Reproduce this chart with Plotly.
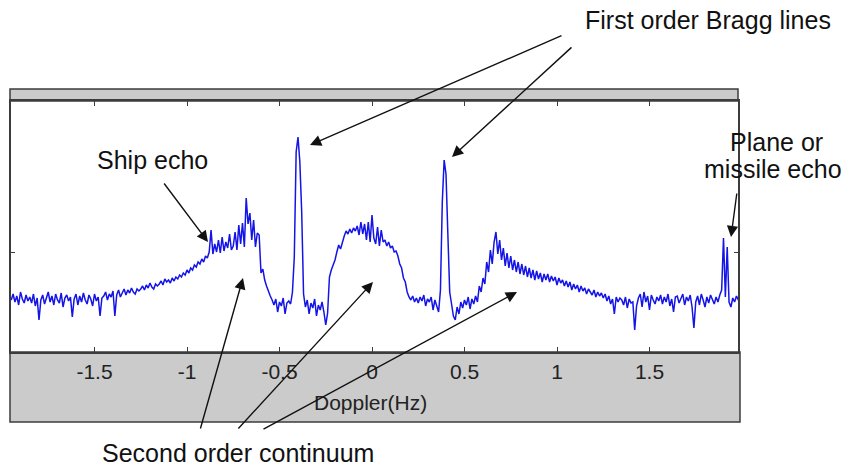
import numpy as np
import plotly.graph_objects as go

# Doppler spectrum (relative power, arbitrary units), bins of 0.01 Hz starting at -1.95 Hz
freq_start = -1.95
freq_step = 0.01
power = [
    52, 58, 50, 56, 47, 60, 53, 49, 57, 51,
    55, 49, 58, 46, 54, 32, 52, 57, 48, 55,
    60, 50, 56, 47, 58, 52, 49, 59, 45, 54,
    57, 51, 55, 35, 53, 58, 47, 56, 50, 59,
    52, 48, 57, 53, 46, 58, 51, 55, 36, 54,
    56, 60, 52, 58, 55, 61, 36, 57, 62, 55,
    60, 63, 57, 62, 59, 64, 60, 58, 63, 61,
    63, 66, 62, 67, 64, 69, 65, 63, 68, 66,
    68, 71, 67, 73, 70, 72, 69, 74, 71, 75,
    73, 77, 75, 79, 77, 82, 79, 84, 82, 87,
    85, 90, 88, 93, 90, 96, 94, 100, 122, 98,
    108, 100, 112, 99, 115, 101, 110, 104, 118, 102,
    106, 120, 102, 127, 108, 129, 105, 154, 128, 139,
    112, 132, 105, 119, 117, 79, 83, 72, 66, 60,
    56, 52, 47, 53, 40, 50, 46, 54, 38, 49,
    51, 48, 60, 95, 200, 215, 190, 140, 58, 45,
    52, 38, 49, 44, 53, 36, 47, 42, 50, 40,
    27, 39, 75, 82, 87, 92, 100, 107, 103, 111,
    116, 121, 118, 123, 119, 124, 121, 126, 117, 130,
    118, 128, 112, 130, 110, 137, 114, 108, 125, 106,
    122, 110, 112, 106, 110, 104, 106, 100, 101, 96,
    88, 84, 74, 70, 60, 55, 52, 56, 50, 54,
    49, 55, 51, 57, 46, 53, 50, 55, 42, 52,
    46, 40, 62, 150, 192, 178, 118, 60, 48, 36,
    32, 45, 38, 50, 44, 52, 47, 55, 43, 53,
    48, 56, 50, 66, 60, 74, 68, 90, 80, 102,
    88, 110, 120, 98, 112, 92, 104, 86, 99, 84,
    96, 82, 92, 80, 90, 78, 88, 77, 86, 75,
    84, 74, 82, 72, 81, 73, 79, 70, 78, 72,
    78, 70, 76, 71, 75, 67, 74, 69, 72, 66,
    71, 65, 70, 62, 68, 63, 67, 60, 66, 61,
    64, 58, 63, 60, 57, 62, 55, 60, 56, 59,
    54, 58, 51, 56, 48, 53, 38, 55, 50, 54,
    52, 47, 55, 44, 53, 49, 50, 22, 46, 54,
    58, 45, 60, 50, 56, 42, 57, 52, 48, 55,
    51, 57, 48, 55, 50, 58, 46, 53, 40, 55,
    56, 49, 54, 58, 47, 55, 51, 57, 45, 24,
    50, 56, 47, 58, 52, 45, 55, 49, 57, 52,
    48, 55, 50, 57, 62, 114, 55, 105, 50, 45,
    54, 50, 56, 52,
]
freq = np.round(freq_start + freq_step * np.arange(len(power)), 2)

x_ticks = [-1.5, -1, -0.5, 0, 0.5, 1, 1.5]
x_tick_labels = ["-1.5", "-1", "-0.5", "0", "0.5", "1", "1.5"]

W, H = 846, 467
L, R, T, B = 11, 738, 101, 352  # plot area in pixels


def pxx(xp):
    return (xp - L) / (R - L)


def pxy(yp):
    return (B - yp) / (B - T)


FONT = "Arial, Liberation Sans, sans-serif"

fig = go.Figure()
fig.add_trace(go.Scatter(
    x=freq, y=power, mode="lines",
    line=dict(color="#1414e6", width=1.5),
    hoverinfo="skip", showlegend=False,
))

gray = "#cbcbcb"
edge = "#3c3c3c"
shapes = [
    # top grey bar
    dict(type="rect", xref="paper", yref="paper", x0=pxx(10), x1=pxx(738),
         y0=pxy(101), y1=pxy(89), fillcolor=gray, line=dict(color=edge, width=1.5), layer="below"),
    # bottom grey panel
    dict(type="rect", xref="paper", yref="paper", x0=pxx(10), x1=pxx(740),
         y0=pxy(422), y1=pxy(352), fillcolor=gray, line=dict(color=edge, width=1.5), layer="below"),
]

annotations = []
texts = [
    ("First order Bragg lines", 708, 20),
    ("Ship echo", 152, 160),
    ("Plane or", 776, 142),
    ("missile echo", 773, 169),
    ("Second order continuum", 238, 453),
    ("Doppler(Hz)", 370, 402),
]
for t, cx, cy in texts:
    size = 21 if t == "Doppler(Hz)" else 25
    annotations.append(dict(
        text=t, x=pxx(cx), y=pxy(cy), xref="paper", yref="paper",
        xanchor="center", yanchor="middle", showarrow=False,
        font=dict(family=FONT, size=size, color="#111111" if size == 25 else "#222222"),
    ))

arrows = [
    ((563, 35), (310, 145)),
    ((573, 46), (452, 157)),
    ((163, 182), (208, 242)),
    ((737, 192), (731, 237)),
    ((200, 430), (243, 278)),
    ((237, 430), (373, 282)),
    ((262, 430), (517, 292)),
]
for (tx, ty), (hx, hy) in arrows:
    annotations.append(dict(
        text="", x=pxx(hx), y=pxy(hy), xref="paper", yref="paper",
        ax=tx - hx, ay=ty - hy, axref="pixel", ayref="pixel",
        showarrow=True, arrowhead=2, arrowsize=1.6, arrowwidth=1.4,
        arrowcolor="#111111", standoff=0,
    ))

fig.update_layout(
    width=W, height=H,
    margin=dict(l=L, r=W - R, t=T, b=H - B, pad=0),
    paper_bgcolor="white", plot_bgcolor="white",
    shapes=shapes, annotations=annotations,
    font=dict(family=FONT),
    xaxis=dict(
        range=[(L - 372) / 185, (R - 372) / 185],
        tickvals=x_ticks, ticktext=x_tick_labels,
        ticks="inside", ticklen=5, tickcolor=edge, tickwidth=1,
        showline=True, linecolor=edge, linewidth=1.5, mirror="ticks",
        showgrid=False, zeroline=False,
        tickfont=dict(family=FONT, size=21, color="#222222"),
        ticklabelstandoff=0,
    ),
    yaxis=dict(
        range=[0, B - T],
        tickvals=[100], showticklabels=False,
        ticks="inside", ticklen=4, tickcolor=edge,
        showline=True, linecolor=edge, linewidth=1.5, mirror="ticks",
        showgrid=False, zeroline=False,
    ),
)

fig.write_html(
    "out.html",
    config={"displayModeBar": False},
    post_script="document.body.style.margin='0';document.body.style.overflow='hidden';",
)
